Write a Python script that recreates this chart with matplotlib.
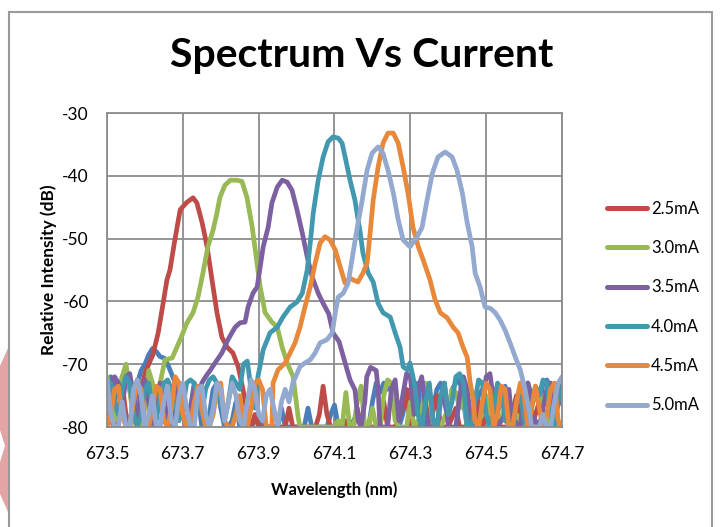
import numpy as np
import matplotlib
matplotlib.use("Agg")
import matplotlib.pyplot as plt
from matplotlib.patches import Rectangle, Polygon

plt.rcParams['font.family'] = ['Lato', 'DejaVu Sans']

# series labels and colours (first one has no legend entry)
labels = ['_nolegend_', '2.5mA', '3.0mA', '3.5mA', '4.0mA', '4.5mA', '5.0mA']
colors = ['#4A7EBB', '#BE4B48', '#98B954', '#7D60A0', '#4198AF', '#E8883A', '#93A9CF']

x_ticks = [673.5, 673.7, 673.9, 674.1, 674.3, 674.5, 674.7]
y_ticks = [-80, -70, -60, -50, -40, -30]

# (wavelength nm, relative intensity dB)
pts_bg = [(673.50, -75), (673.51, -72), (673.52, -73), (673.53, -77), (673.54, -72), (673.55, -71.5),
          (673.56, -74), (673.57, -78), (673.58, -73), (673.59, -71), (673.60, -70), (673.61, -68.5),
          (673.62, -67.5), (673.63, -68), (673.64, -68.8), (673.65, -69), (673.66, -70), (673.67, -71.5),
          (673.68, -73), (673.69, -75), (673.70, -78), (673.71, -80), (673.72, -77), (673.73, -73),
          (673.74, -75), (673.75, -80), (673.76, -80), (673.77, -78), (673.78, -74), (673.79, -73),
          (673.80, -77), (673.81, -80), (673.82, -80), (673.83, -79), (673.84, -76), (673.85, -80),
          (673.88, -80), (673.90, -78), (673.91, -80), (673.95, -80), (673.96, -77), (673.97, -80),
          (674.02, -80), (674.03, -77), (674.04, -80), (674.08, -80), (674.09, -78), (674.10, -76.5),
          (674.11, -80), (674.14, -80), (674.16, -78), (674.17, -80), (674.19, -80), (674.20, -76),
          (674.21, -73), (674.22, -74.5), (674.23, -73), (674.24, -74), (674.25, -73.5), (674.26, -76),
          (674.27, -80), (674.28, -78), (674.29, -75), (674.30, -74), (674.31, -76), (674.32, -73),
          (674.33, -78), (674.34, -80), (674.36, -77), (674.37, -74), (674.38, -73), (674.39, -76),
          (674.40, -79), (674.41, -74), (674.42, -73), (674.43, -72.5), (674.44, -76), (674.45, -80),
          (674.47, -79), (674.48, -75), (674.49, -74), (674.50, -77), (674.51, -80), (674.53, -78),
          (674.54, -74), (674.55, -73.5), (674.56, -76), (674.58, -80), (674.60, -76), (674.61, -73),
          (674.62, -75), (674.63, -74), (674.64, -77), (674.65, -73), (674.66, -72.5), (674.67, -74),
          (674.68, -78), (674.69, -73), (674.70, -75)]

pts_25 = [(673.50, -74), (673.51, -79), (673.52, -80), (673.53, -76), (673.54, -73), (673.55, -78),
          (673.56, -80), (673.57, -75), (673.58, -72.5), (673.59, -74), (673.60, -71.5), (673.61, -70),
          (673.621, -68.5), (673.635, -65.0), (673.648, -60.3), (673.658, -56.6), (673.666, -55.0),
          (673.679, -50.2), (673.693, -45.4), (673.711, -44.2), (673.727, -43.5), (673.737, -44.3),
          (673.751, -47.5), (673.764, -51.3), (673.777, -56.6), (673.790, -61.8), (673.803, -65.7),
          (673.817, -67.3), (673.832, -68.2), (673.846, -70.4), (673.859, -74.1), (673.87, -78),
          (673.88, -80), (673.89, -78), (673.90, -80), (673.94, -80), (673.95, -80), (673.97, -80),
          (673.98, -77), (673.99, -80), (674.05, -80), (674.06, -78), (674.07, -73.5), (674.08, -78),
          (674.09, -80), (674.12, -80), (674.13, -79), (674.14, -80), (674.15, -80), (674.16, -77),
          (674.17, -80), (674.22, -80), (674.23, -76), (674.24, -80), (674.26, -80), (674.28, -77),
          (674.29, -74), (674.30, -80), (674.32, -80), (674.34, -76), (674.35, -80), (674.37, -75),
          (674.38, -80), (674.40, -80), (674.42, -77), (674.43, -80), (674.46, -80), (674.48, -76),
          (674.49, -80), (674.52, -74), (674.53, -80), (674.56, -80), (674.58, -75), (674.59, -80),
          (674.62, -80), (674.64, -76), (674.65, -80), (674.70, -80)]

pts_30 = [(673.50, -72), (673.51, -75), (673.52, -79), (673.53, -77), (673.54, -72), (673.55, -70),
          (673.56, -74), (673.57, -79), (673.58, -80), (673.59, -80), (673.60, -77), (673.61, -71),
          (673.62, -73), (673.63, -77), (673.64, -73), (673.653, -69.3), (673.672, -69.0),
          (673.693, -66.1), (673.711, -63.4), (673.727, -61.8), (673.740, -59.3), (673.753, -55.5),
          (673.766, -51.3), (673.780, -48.6), (673.790, -45.9), (673.798, -43.4), (673.811, -41.5),
          (673.825, -40.7), (673.843, -40.7), (673.856, -40.9), (673.869, -43.4), (673.883, -48.2),
          (673.891, -51.8), (673.904, -57.7), (673.917, -61.8), (673.935, -63.3), (673.949, -64.1),
          (673.962, -67.3), (673.975, -69.8), (673.991, -72.0), (674.004, -78.4), (674.009, -80),
          (674.10, -80), (674.11, -79), (674.12, -80), (674.13, -74.5), (674.14, -80), (674.15, -80),
          (674.16, -76), (674.17, -73.5), (674.18, -80), (674.19, -80), (674.20, -77), (674.21, -80),
          (674.22, -80), (674.23, -75), (674.24, -72.5), (674.25, -73), (674.26, -79), (674.27, -80),
          (674.29, -80), (674.30, -76), (674.31, -80), (674.33, -78), (674.34, -73), (674.35, -74),
          (674.36, -80), (674.38, -80), (674.40, -77), (674.41, -74), (674.42, -74.5), (674.43, -77),
          (674.44, -75), (674.45, -80), (674.47, -80), (674.49, -78), (674.50, -75), (674.51, -80),
          (674.53, -80), (674.55, -77), (674.56, -80), (674.58, -78), (674.60, -80), (674.62, -76),
          (674.63, -74), (674.64, -74), (674.65, -78), (674.66, -80), (674.68, -77), (674.69, -80),
          (674.70, -80)]

pts_35 = [(673.50, -73), (673.51, -75), (673.52, -72), (673.53, -73), (673.54, -77), (673.55, -72),
          (673.56, -71.5), (673.57, -75), (673.58, -79), (673.59, -74), (673.60, -72.5), (673.61, -76),
          (673.62, -80), (673.63, -77), (673.64, -73), (673.65, -75), (673.66, -79), (673.67, -80),
          (673.68, -76), (673.69, -73), (673.70, -78), (673.71, -80), (673.72, -77), (673.73, -74),
          (673.74, -76), (673.75, -73), (673.76, -72), (673.772, -71.0), (673.785, -69.8),
          (673.803, -68.2), (673.819, -66.1), (673.838, -64.1), (673.851, -63.4), (673.864, -63.3),
          (673.872, -60.9), (673.885, -58.7), (673.896, -57.7), (673.904, -54.5), (673.912, -51.3),
          (673.925, -48.2), (673.935, -44.3), (673.949, -41.8), (673.962, -40.7), (673.975, -41.0),
          (673.988, -42.3), (674.001, -45.4), (674.015, -49.1), (674.028, -52.9), (674.041, -56.1),
          (674.057, -58.7), (674.070, -60.3), (674.085, -62.0), (674.096, -65.0), (674.112, -66.4),
          (674.128, -69.8), (674.141, -72.5), (674.154, -74.1), (674.162, -78.9), (674.17, -80),
          (674.18, -76), (674.185, -72), (674.195, -70.5), (674.21, -71), (674.215, -74), (674.22, -80),
          (674.24, -80), (674.25, -74), (674.26, -72.5), (674.27, -79), (674.28, -75), (674.29, -71.5),
          (674.30, -72), (674.31, -78), (674.32, -74), (674.33, -72), (674.34, -77), (674.35, -80),
          (674.37, -80), (674.38, -76), (674.39, -73), (674.40, -80), (674.42, -80), (674.43, -75),
          (674.44, -72), (674.45, -74), (674.46, -79), (674.47, -80), (674.49, -77), (674.50, -72),
          (674.51, -71.5), (674.52, -76), (674.53, -80), (674.55, -78), (674.56, -74), (674.57, -80),
          (674.59, -80), (674.60, -75), (674.61, -73), (674.62, -78), (674.64, -80), (674.66, -74),
          (674.67, -73), (674.68, -78), (674.70, -75)]

pts_40 = [(673.50, -74), (673.51, -73), (673.52, -76), (673.53, -78), (673.54, -74), (673.55, -72),
          (673.56, -73), (673.57, -78), (673.58, -80), (673.59, -78), (673.60, -74), (673.61, -73),
          (673.62, -77), (673.63, -79), (673.64, -75), (673.65, -73), (673.66, -72.5), (673.67, -74),
          (673.68, -76), (673.69, -79), (673.70, -77), (673.71, -73), (673.72, -72.5), (673.73, -73),
          (673.74, -76), (673.75, -78), (673.76, -74), (673.77, -72.5), (673.78, -72), (673.79, -73),
          (673.80, -76), (673.81, -79), (673.82, -76), (673.83, -72), (673.84, -73), (673.85, -74),
          (673.86, -70), (673.87, -69.5), (673.88, -74), (673.89, -77), (673.898, -72.0),
          (673.912, -67.7), (673.930, -65.0), (673.949, -64.1), (673.964, -62.5), (673.983, -60.9),
          (674.001, -60.1), (674.015, -58.7), (674.028, -55.0), (674.036, -50.7), (674.044, -45.9),
          (674.057, -40.7), (674.070, -37.0), (674.083, -34.6), (674.096, -33.8), (674.110, -34.0),
          (674.120, -34.8), (674.128, -37.0), (674.141, -40.7), (674.154, -43.9), (674.168, -49.1),
          (674.175, -52.3), (674.189, -55.5), (674.202, -56.9), (674.215, -60.3), (674.228, -61.8),
          (674.247, -62.5), (674.260, -65.0), (674.273, -67.3), (674.281, -70.4), (674.292, -70.9),
          (674.299, -69.8), (674.307, -72.0), (674.313, -74.1), (674.32, -78), (674.33, -80),
          (674.34, -76), (674.35, -73), (674.36, -79), (674.37, -80), (674.38, -75), (674.39, -73),
          (674.40, -78), (674.41, -76), (674.42, -72), (674.43, -71.5), (674.44, -73), (674.45, -80),
          (674.46, -80), (674.47, -76), (674.48, -72.5), (674.49, -73), (674.50, -78), (674.51, -80),
          (674.52, -77), (674.53, -73), (674.54, -74), (674.55, -79), (674.57, -80), (674.58, -76),
          (674.59, -74), (674.60, -79), (674.61, -80), (674.62, -77), (674.63, -73.5), (674.64, -75),
          (674.65, -72.5), (674.66, -73), (674.67, -78), (674.68, -80), (674.69, -76), (674.70, -74)]

pts_45 = [(673.50, -80), (673.51, -78), (673.52, -74), (673.53, -73.5), (673.54, -78), (673.55, -80),
          (673.56, -80), (673.57, -76), (673.58, -73), (673.59, -74), (673.60, -80), (673.61, -80),
          (673.62, -77), (673.63, -73.5), (673.64, -74), (673.65, -79), (673.66, -80), (673.67, -77),
          (673.68, -72), (673.69, -73), (673.70, -78), (673.71, -80), (673.72, -80), (673.73, -76),
          (673.74, -73.5), (673.75, -77), (673.76, -80), (673.77, -80), (673.78, -78), (673.79, -74),
          (673.80, -73), (673.81, -79), (673.82, -80), (673.83, -80), (673.84, -78), (673.85, -75),
          (673.86, -79), (673.87, -80), (673.88, -77), (673.89, -73), (673.90, -72.5), (673.91, -74),
          (673.92, -80), (673.935, -80), (673.938, -73.0), (673.951, -70.9), (673.970, -69.8),
          (673.983, -68.2), (673.996, -66.6), (674.009, -64.1), (674.022, -60.9), (674.036, -57.7),
          (674.049, -53.9), (674.062, -50.7), (674.075, -49.7), (674.088, -50.2), (674.102, -51.8),
          (674.115, -54.5), (674.128, -57.1), (674.141, -56.3), (674.150, -56.6), (674.162, -56.9),
          (674.175, -55.5), (674.186, -53.9), (674.194, -49.1), (674.202, -43.9), (674.215, -38.6),
          (674.228, -34.8), (674.241, -33.2), (674.255, -33.2), (674.268, -34.8), (674.281, -38.6),
          (674.294, -42.8), (674.307, -48.2), (674.321, -51.3), (674.334, -53.4), (674.352, -56.6),
          (674.365, -59.7), (674.379, -61.8), (674.397, -62.6), (674.413, -64.1), (674.426, -65.0),
          (674.439, -67.3), (674.450, -68.9), (674.458, -73.0), (674.466, -75.7), (674.47, -79),
          (674.48, -80), (674.49, -76), (674.50, -73), (674.51, -74), (674.52, -80), (674.53, -78),
          (674.54, -73.5), (674.55, -74), (674.56, -80), (674.57, -80), (674.58, -76), (674.59, -73),
          (674.60, -75), (674.61, -80), (674.62, -77), (674.63, -73.5), (674.64, -77), (674.65, -80),
          (674.66, -78), (674.67, -74), (674.68, -73), (674.69, -79), (674.70, -80)]

pts_50 = [(673.50, -72.5), (673.51, -78), (673.52, -80), (673.53, -80), (673.54, -76), (673.55, -80),
          (673.56, -80), (673.57, -74), (673.58, -72.5), (673.59, -75), (673.60, -80), (673.61, -78),
          (673.62, -75), (673.63, -80), (673.64, -80), (673.65, -76), (673.66, -73.5), (673.67, -79),
          (673.68, -80), (673.69, -75), (673.70, -73), (673.71, -77), (673.72, -80), (673.73, -80),
          (673.74, -74), (673.75, -73.5), (673.76, -78), (673.77, -80), (673.78, -77), (673.79, -73),
          (673.80, -74), (673.81, -79), (673.82, -76), (673.83, -73), (673.84, -75), (673.85, -79),
          (673.86, -80), (673.87, -76), (673.88, -72.5), (673.89, -74), (673.90, -78), (673.91, -79),
          (673.92, -75), (673.93, -74), (673.94, -77), (673.95, -80), (673.96, -76), (673.97, -74),
          (673.98, -76), (673.99, -73), (674.009, -70.4), (674.022, -69.8), (674.036, -69.3),
          (674.049, -68.2), (674.062, -66.6), (674.080, -66.1), (674.094, -65.0), (674.102, -61.8),
          (674.110, -59.3), (674.123, -58.7), (674.136, -57.1), (674.146, -53.4), (674.160, -48.2),
          (674.173, -43.9), (674.186, -39.1), (674.199, -36.4), (674.215, -35.4), (674.228, -36.4),
          (674.241, -39.1), (674.255, -42.7), (674.268, -47.0), (674.281, -50.2), (674.299, -51.3),
          (674.318, -49.7), (674.331, -48.2), (674.344, -43.9), (674.358, -39.6), (674.373, -37.0),
          (674.392, -36.2), (674.410, -37.0), (674.423, -39.1), (674.437, -42.7), (674.450, -47.5),
          (674.463, -51.3), (674.471, -55.5), (674.484, -57.7), (674.497, -60.9), (674.511, -61.1),
          (674.524, -61.8), (674.537, -63.0), (674.550, -64.6), (674.563, -66.6), (674.577, -68.9),
          (674.590, -70.9), (674.603, -74.1), (674.616, -78.4), (674.62, -80), (674.64, -80),
          (674.65, -78), (674.66, -80), (674.67, -80), (674.68, -76), (674.69, -73), (674.70, -72)]

series = [pts_bg, pts_25, pts_30, pts_35, pts_40, pts_45, pts_50]

fig = plt.figure(figsize=(7.21, 5.27), dpi=100)
ax = fig.add_axes([107 / 721, 1 - 427 / 527, 455 / 721, 314 / 527])

for pts, lab, col in zip(series, labels, colors):
    arr = np.array(pts)
    ax.plot(arr[:, 0], arr[:, 1], color=col, lw=3.4, label=lab,
            solid_joinstyle='round', solid_capstyle='round')

ax.set_xlim(673.5, 674.7)
ax.set_ylim(-80, -30)
ax.set_xticks(x_ticks)
ax.set_yticks(y_ticks)
ax.set_xticklabels([f'{v:.1f}' for v in x_ticks])
ax.set_yticklabels([str(v) for v in y_ticks])
ax.tick_params(length=0, labelsize=12.5, colors='#000000')
ax.tick_params(axis='x', pad=14)
ax.tick_params(axis='y', pad=13)
ax.grid(True, color='#8C8C8C', lw=1.3)
ax.set_axisbelow(True)
for sp in ax.spines.values():
    sp.set_color('#8C8C8C')
    sp.set_linewidth(1.3)

ax.set_xlabel('Wavelength (nm)', fontsize=12, fontweight='bold', labelpad=14)
ax.set_ylabel('Relative Intensity (dB)', fontsize=12.5, fontweight='bold', labelpad=4)
fig.text(362 / 721, 1 - 55 / 527, 'Spectrum Vs Current', fontsize=29.5, fontweight='bold',
         ha='center', va='center')

leg = ax.legend(loc='center left', bbox_to_anchor=(592 / 721, 1 - 307 / 527),
                bbox_transform=fig.transFigure, frameon=False, fontsize=12,
                handlelength=2.4, handletextpad=0.25, labelspacing=1.4)
for line in leg.get_lines():
    line.set_linewidth(3.6)

# chart frame and the edge of the pink mark on the left
fig.patches.append(Rectangle((9 / 721, -0.01), 703 / 721, 1 - 12 / 527 + 0.01,
                             transform=fig.transFigure, fill=False, ec='#9A9A9A', lw=1.5))
fig.patches.append(Polygon([(0, 1 - 366 / 527), (8 / 721, 1 - 348 / 527), (8 / 721, 1 - 512 / 527),
                            (0, 1 - 494 / 527), (0, 1 - 462 / 527), (5 / 721, 1 - 446 / 527),
                            (0, 1 - 430 / 527)],
                           transform=fig.transFigure, fc='#E2A4A4', ec='none'))

fig.savefig('out.png', dpi=100)
